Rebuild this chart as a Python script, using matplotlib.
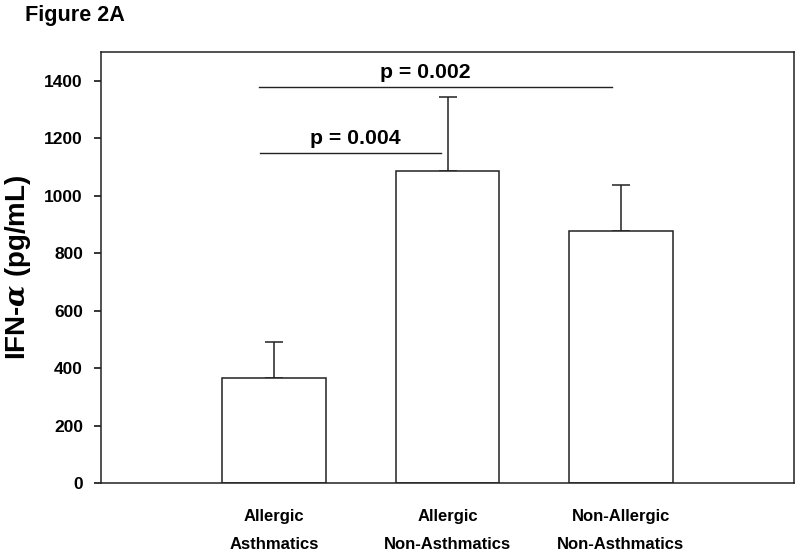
import matplotlib
matplotlib.use("Agg")
from matplotlib import pyplot as plt

groups = ["Allergic\nAsthmatics", "Allergic\nNon-Asthmatics", "Non-Allergic\nNon-Asthmatics"]
means = [365, 1085, 877]
errors = [125, 260, 159]
p_labels = ["p = 0.004", "p = 0.002"]

plt.rcParams['font.family'] = ['Liberation Sans', 'DejaVu Sans']
plt.rcParams['font.weight'] = 'bold'
plt.rcParams['mathtext.fontset'] = 'dejavuserif'

fig = plt.figure(figsize=(8, 5.57), dpi=100)
ax = fig.add_axes([101/800, 1 - 483/557, 693/800, 431/557])

x = [1, 2, 3]
ax.bar(x, means, width=0.6, color='white', edgecolor='#222222', linewidth=1.1, zorder=2)
ax.errorbar(x, means, yerr=[[0, 0, 0], errors], fmt='none', ecolor='#222222',
            elinewidth=1.1, capsize=6.5, capthick=1.1, zorder=1)

ax.set_xlim(0, 4)
ax.set_ylim(0, 1500)
ax.set_yticks(range(0, 1401, 200))
ax.set_xticks([])
for s in ax.spines.values():
    s.set_linewidth(1.1)
    s.set_color('#222222')
ax.tick_params(axis='y', length=5, width=1.1, labelsize=12.5, pad=8)
for lbl in ax.get_yticklabels():
    lbl.set_fontweight('bold')

# group labels under the axis
for xi, g in zip(x, groups):
    top, bottom = g.split("\n")
    ax.annotate(top, (xi, 0), xytext=(0, -24), textcoords='offset points',
                ha='center', va='center', fontsize=12, fontweight='bold')
    ax.annotate(bottom, (xi, 0), xytext=(0, -44.5), textcoords='offset points',
                ha='center', va='center', fontsize=12, fontweight='bold')

ax.set_ylabel("IFN-$\\alpha$ (pg/mL)", fontsize=20, fontweight='bold', labelpad=8)

# significance lines
ax.plot([0.92, 1.96], [1147, 1147], color='#222222', lw=1.0)
ax.text(1.47, 1200, p_labels[0], ha='center', va='center', fontsize=15.3, fontweight='bold')
ax.plot([0.91, 2.95], [1377, 1377], color='#222222', lw=1.0)
ax.text(1.87, 1430, p_labels[1], ha='center', va='center', fontsize=15.3, fontweight='bold')

fig.text(25/800, 1 - 16/557, "Figure 2A", ha='left', va='center', fontsize=15.6, fontweight='bold')

fig.savefig("out.png", dpi=100)
